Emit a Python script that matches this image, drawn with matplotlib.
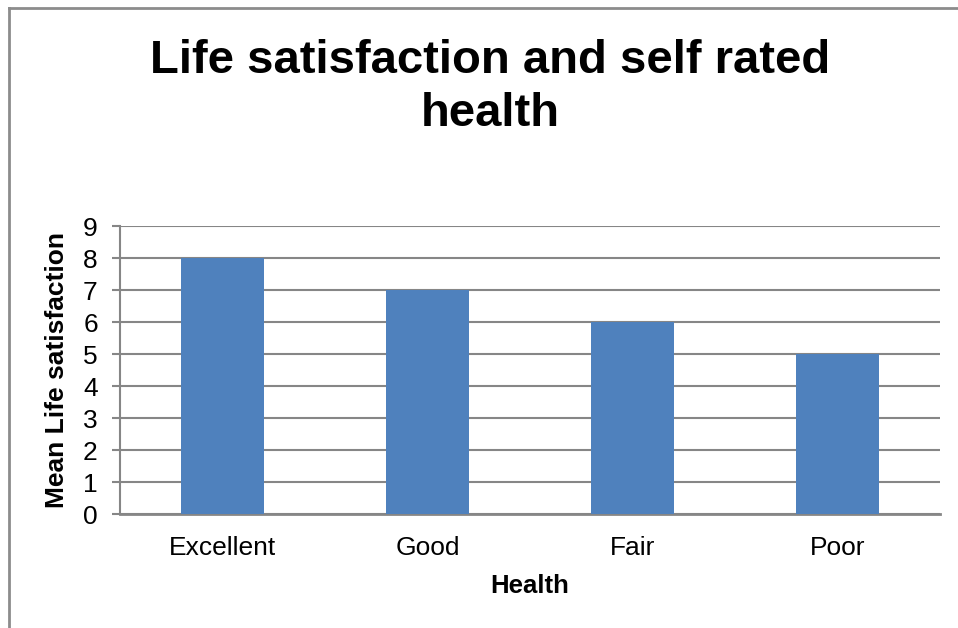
import matplotlib
matplotlib.use("Agg")
import matplotlib.pyplot as plt
from matplotlib.lines import Line2D

# Mean life satisfaction by self rated health
health = ["Excellent", "Good", "Fair", "Poor"]
mean_satisfaction = [8, 7, 6, 5]
y_ticks = list(range(0, 10))

BAR_COLOR = "#4F81BD"
GRID_COLOR = "#868686"

plt.rcParams["font.family"] = ["Liberation Sans", "DejaVu Sans"]

fig = plt.figure(figsize=(9.58, 6.28), dpi=100)
ax = fig.add_axes([120 / 958, 1 - 514 / 628, 820 / 958, 288 / 628])

x = range(len(health))
ax.bar(x, mean_satisfaction, width=0.405, color=BAR_COLOR, zorder=3)

ax.set_xlim(-0.5, len(health) - 0.5)
ax.set_ylim(0, 9)
ax.set_yticks(y_ticks)
ax.set_xticks(list(x))
ax.set_xticklabels(health)

ax.yaxis.grid(True, color=GRID_COLOR, linewidth=1.5, zorder=0)
ax.set_axisbelow(True)

for side in ["top", "right"]:
    ax.spines[side].set_visible(False)
ax.spines["left"].set_color(GRID_COLOR)
ax.spines["left"].set_linewidth(1.5)
ax.spines["bottom"].set_color(GRID_COLOR)
ax.spines["bottom"].set_linewidth(2)

ax.tick_params(axis="y", direction="out", length=6, width=1.5, color=GRID_COLOR,
               labelsize=19, pad=10)
ax.tick_params(axis="x", length=0, labelsize=19, pad=16)

ax.set_xlabel("Health", fontsize=18.5, fontweight="bold", labelpad=10)
ax.set_ylabel("Mean Life satisfaction", fontsize=19, fontweight="bold", labelpad=10)

fig.text(490 / 958, 1 - 87.5 / 628, "Life satisfaction and self rated\nhealth",
         ha="center", va="center", fontsize=34, fontweight="bold",
         linespacing=1.27)

# thin frame along the top and left edges of the chart area
fig.add_artist(Line2D([9 / 958, 1], [1 - 8 / 628, 1 - 8 / 628],
                      color="#8C8C8C", linewidth=2, transform=fig.transFigure))
fig.add_artist(Line2D([9 / 958, 9 / 958], [0, 1 - 8 / 628],
                      color="#8C8C8C", linewidth=2, transform=fig.transFigure))

fig.savefig("out.png", dpi=100, facecolor="white")
